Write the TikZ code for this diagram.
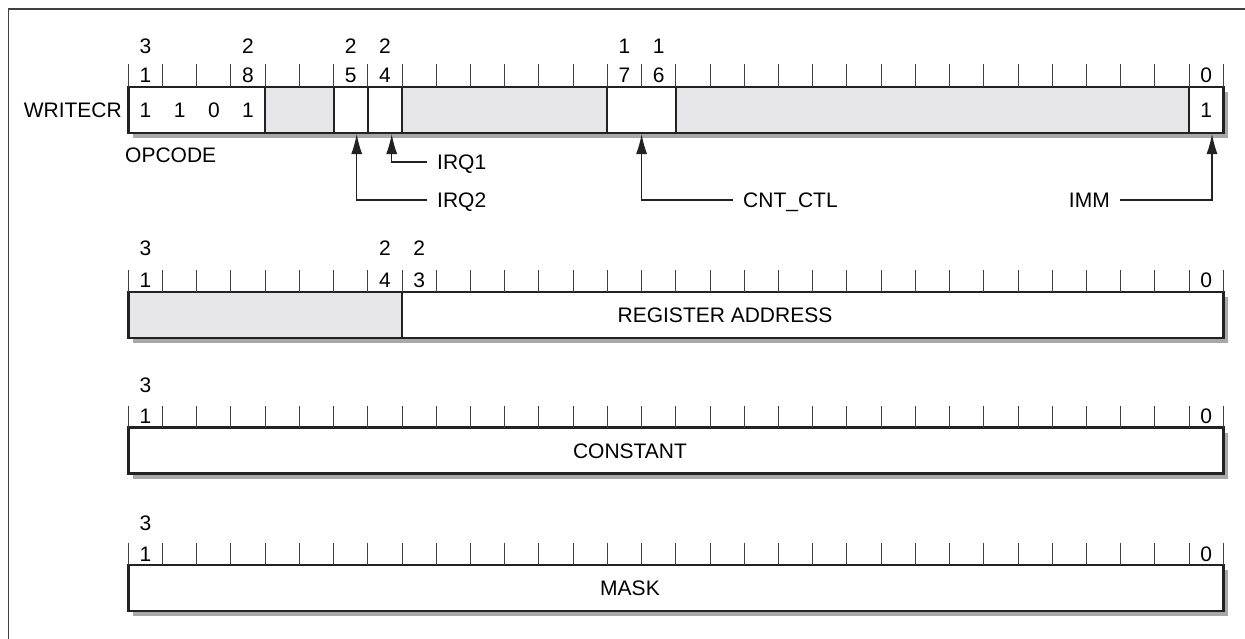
\documentclass[tikz,border=0pt]{standalone}
\usepackage{fontspec}
\setmainfont{Liberation Sans}
\usetikzlibrary{arrows.meta,calc,positioning}

\definecolor{fieldgray}{RGB}{230,229,232}
\definecolor{shadowgray}{RGB}{168,168,168}
\definecolor{inkdark}{RGB}{34,34,34}

% left edge, right edge and centre of a bit (bit 31 on the left)
\newcommand{\bl}[1]{128.3+(31-#1)*34.22}
\newcommand{\br}[1]{128.3+(32-#1)*34.22}
\newcommand{\bc}[1]{145.41+(31-#1)*34.22}

\tikzset{
  txt/.style={inner sep=0pt, text height=15pt, text depth=0pt},
  ptrlabel/.style={txt, inner xsep=10pt},
  tick/.style={draw=black!75, line width=1pt},
  divider/.style={draw=inkdark, line width=2pt},
  border/.style={draw=inkdark, line width=2.6pt},
  ptr/.style={draw=inkdark, line width=1.2pt, -{Latex[length=20pt,width=11pt]}},
}

\begin{document}
\begin{tikzpicture}[x=1pt, y=-1pt, font=\fontsize{21}{25}\selectfont]
\useasboundingbox (0,0) rectangle (1245,638);
\draw[black!75, line width=1.5pt] (8.3,640) -- (8.3,9) -- (1246,9);

%----- WRITECR -----
\fill[shadowgray] (133.3,92) rectangle (1228.3,138);
\fill[white] (128.3,87) rectangle (1223.3,133);
\fill[fieldgray] ({\bl{27}},87) rectangle ({\br{26}},133);
\fill[fieldgray] ({\bl{23}},87) rectangle ({\br{18}},133);
\fill[fieldgray] ({\bl{15}},87) rectangle ({\br{1}},133);
\foreach \b in {27,25,24,23,17,15,0}
  \draw[divider] ({\bl{\b}},87) -- ({\bl{\b}},133);
\draw[border] (128.3,87) rectangle (1223.3,133);
\foreach \i in {0,...,32}
  \draw[tick] ({128.3+\i*34.22},64) -- ({128.3+\i*34.22},87);
\foreach \b/\u/\l in {31/3/1, 28/2/8, 25/2/5, 24/2/4, 17/1/7, 16/1/6} {
  \node[txt] (wtop\b) at ({\bc{\b}},46) {\u};
  \node[txt] (wbot\b) at ({\bc{\b}},75) {\l};
}
\node[txt] (wbot0) at ({\bc{0}},75) {0};
\foreach \b/\v in {31/1, 30/1, 29/0, 28/1}
  \node[txt] (opc\b) at ({\bc{\b}},110) {\v};
\node[txt] (immval) at ({\bc{0}},110) {1};
\node[txt, anchor=east] (writecr) at (122,110) {WRITECR};
\node[txt, anchor=west] (opcode) at (125,155) {OPCODE};

% pointers to the single-bit fields
\coordinate (irqtwotip) at (356.7,134);
\coordinate (irqonetip) at (391.7,134);
\coordinate (cnttip) at ({\bl{16}},134);
\coordinate (immtip) at (1212,134);
\node[ptrlabel, anchor=west] (irqone) at (427,162) {IRQ1};
\node[ptrlabel, anchor=west] (irqtwo) at (427,200) {IRQ2};
\node[ptrlabel, anchor=west] (cntctl) at (733,200) {CNT\_CTL};
\node[ptrlabel, anchor=east] (imm) at (1120,200) {IMM};
\draw[ptr] (irqone.west) -| (irqonetip);
\draw[ptr] (irqtwo.west) -| (irqtwotip);
\draw[ptr] (cntctl.west) -| (cnttip);
\draw[ptr] (imm.east) -| (immtip);

%----- register address word -----
\fill[shadowgray] (133.3,297) rectangle (1228.3,343);
\fill[white] (128.3,292) rectangle (1223.3,338);
\fill[fieldgray] (128.3,292) rectangle ({\br{24}},338);
\draw[divider] ({\bl{23}},292) -- ({\bl{23}},338);
\draw[border] (128.3,292) rectangle (1223.3,338);
\foreach \i in {0,...,32}
  \draw[tick] ({128.3+\i*34.22},270) -- ({128.3+\i*34.22},292);
\foreach \b/\u/\l in {31/3/1, 24/2/4, 23/2/3} {
  \node[txt] (atop\b) at ({\bc{\b}},248) {\u};
  \node[txt] (abot\b) at ({\bc{\b}},280) {\l};
}
\node[txt] (abot0) at ({\bc{0}},280) {0};
\node[txt] (regaddr) at (725,315) {REGISTER ADDRESS};

%----- constant word -----
\fill[shadowgray] (133.3,432.5) rectangle (1228.3,478.5);
\fill[white] (128.3,427.5) rectangle (1223.3,473.5);
\draw[border] (128.3,427.5) rectangle (1223.3,473.5);
\foreach \i in {0,...,32}
  \draw[tick] ({128.3+\i*34.22},405.5) -- ({128.3+\i*34.22},427.5);
\node[txt] (ctop31) at ({\bc{31}},385) {3};
\node[txt] (cbot31) at ({\bc{31}},416) {1};
\node[txt] (cbot0) at ({\bc{0}},416) {0};
\node[txt] (constant) at (630,451) {CONSTANT};

%----- mask word -----
\fill[shadowgray] (133.3,570) rectangle (1228.3,616);
\fill[white] (128.3,565) rectangle (1223.3,611);
\draw[border] (128.3,565) rectangle (1223.3,611);
\foreach \i in {0,...,32}
  \draw[tick] ({128.3+\i*34.22},543) -- ({128.3+\i*34.22},565);
\node[txt] (mtop31) at ({\bc{31}},523) {3};
\node[txt] (mbot31) at ({\bc{31}},554) {1};
\node[txt] (mbot0) at ({\bc{0}},554) {0};
\node[txt] (mask) at (630,588) {MASK};
\end{tikzpicture}
\end{document}
